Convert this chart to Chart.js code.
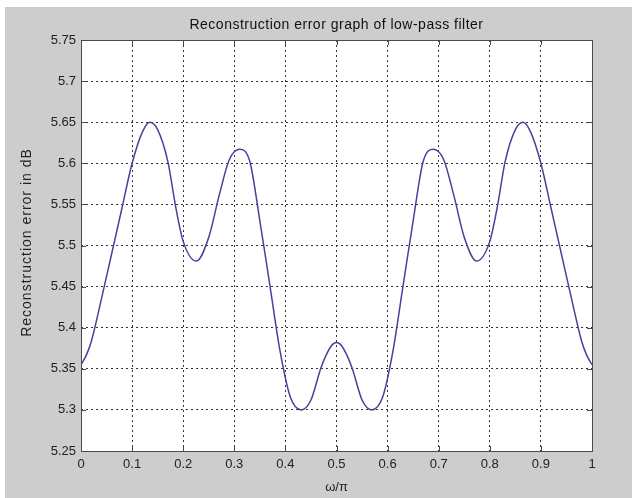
<!DOCTYPE html>
<html>
<head>
<meta charset="utf-8">
<script src="https://cdn.jsdelivr.net/npm/chart.js@4.4.1/dist/chart.umd.min.js"></script>
<style>
  html, body { margin: 0; padding: 0; background: #ffffff; }
  #wrap { width: 632px; height: 498px; }
</style>
</head>
<body>
<div id="wrap"><canvas id="c" width="632" height="498"></canvas></div>
<script>
// ---- data ----
const omegaOverPi = [0, 0.01, 0.02, 0.04, 0.06, 0.08, 0.10, 0.12, 0.135, 0.15, 0.17, 0.185, 0.20, 0.226, 0.25, 0.27, 0.29, 0.31, 0.33, 0.35, 0.37, 0.39, 0.41, 0.431, 0.45, 0.47, 0.49, 0.50,
                     0.51, 0.53, 0.55, 0.569, 0.59, 0.61, 0.63, 0.65, 0.67, 0.69, 0.71, 0.73, 0.75, 0.774, 0.80, 0.815, 0.83, 0.85, 0.865, 0.88, 0.90, 0.92, 0.94, 0.96, 0.98, 0.99, 1.0];
const errorDb = [5.355, 5.366, 5.383, 5.435, 5.49, 5.545, 5.600, 5.638, 5.650, 5.641, 5.602, 5.548, 5.505, 5.481, 5.51, 5.56, 5.604, 5.617, 5.603, 5.53, 5.45, 5.37, 5.315, 5.300, 5.312, 5.352, 5.378, 5.382,
                 5.378, 5.352, 5.312, 5.300, 5.315, 5.37, 5.45, 5.53, 5.603, 5.617, 5.604, 5.56, 5.51, 5.481, 5.505, 5.548, 5.602, 5.641, 5.650, 5.638, 5.600, 5.545, 5.49, 5.435, 5.383, 5.366, 5.355];
const xTickLabels = ['0', '0.1', '0.2', '0.3', '0.4', '0.5', '0.6', '0.7', '0.8', '0.9', '1'];
const yTickLabels = ['5.25', '5.3', '5.35', '5.4', '5.45', '5.5', '5.55', '5.6', '5.65', '5.7', '5.75'];
const chartTitle = 'Reconstruction error graph of low-pass filter';
const xTitle = 'ω/π';
const yTitle = 'Reconstruction error in dB';

const points = omegaOverPi.map((x, i) => ({ x: x, y: errorDb[i] }));
const FONT = 'Liberation Sans, Arial, sans-serif';

const frame = {
  id: 'matlabFrame',
  beforeDraw(chart) {
    const { ctx, chartArea: a } = chart;
    ctx.save();
    ctx.fillStyle = '#ffffff';
    ctx.fillRect(0, 0, chart.width, chart.height);
    ctx.fillStyle = '#cdcdcd';
    ctx.fillRect(5, 7, chart.width - 5, chart.height - 7);
    ctx.fillStyle = '#ffffff';
    ctx.fillRect(a.left, a.top, a.right - a.left, a.bottom - a.top);
    ctx.restore();
  },
  afterDraw(chart) {
    const { ctx, chartArea: a } = chart;
    const xs = chart.scales.x, ys = chart.scales.y;
    ctx.save();
    ctx.strokeStyle = '#4a4a4a';
    ctx.lineWidth = 1;
    ctx.strokeRect(Math.round(a.left) + 0.5, Math.round(a.top) + 0.5, Math.round(a.right - a.left), Math.round(a.bottom - a.top));
    const tl = 5;
    ctx.beginPath();
    xs.ticks.forEach(t => {
      const px = Math.round(xs.getPixelForValue(t.value)) + 0.5;
      ctx.moveTo(px, a.bottom); ctx.lineTo(px, a.bottom - tl);
      ctx.moveTo(px, a.top); ctx.lineTo(px, a.top + tl);
    });
    ys.ticks.forEach(t => {
      const py = Math.round(ys.getPixelForValue(t.value)) + 0.5;
      ctx.moveTo(a.left, py); ctx.lineTo(a.left + tl, py);
      ctx.moveTo(a.right, py); ctx.lineTo(a.right - tl, py);
    });
    ctx.stroke();
    // title centred over the plot box
    ctx.fillStyle = '#111111';
    ctx.font = '14px ' + FONT;
    ctx.textAlign = 'center';
    ctx.textBaseline = 'middle';
    try { ctx.letterSpacing = '0.5px'; } catch (e) {}
    ctx.fillText(chartTitle, (a.left + a.right) / 2, 25);
    // y-axis label, rotated
    try { ctx.letterSpacing = '1px'; } catch (e) {}
    ctx.fillStyle = '#222222';
    ctx.translate(27, (a.top + a.bottom) / 2 - 3);
    ctx.rotate(-Math.PI / 2);
    ctx.fillText(yTitle, 0, 0);
    ctx.restore();
  }
};

new Chart(document.getElementById('c'), {
  type: 'line',
  data: {
    datasets: [{
      data: points,
      borderColor: '#43439c',
      borderWidth: 1.5,
      pointRadius: 0,
      fill: false,
      cubicInterpolationMode: 'monotone'
    }]
  },
  options: {
    responsive: false,
    devicePixelRatio: 1,
    animation: false,
    layout: { padding: { left: 0, right: 40, top: 40, bottom: 0 } },
    plugins: {
      legend: { display: false },
      tooltip: { enabled: false },
      title: { display: false }
    },
    scales: {
      x: {
        type: 'linear',
        min: 0, max: 1,
        afterFit(s) { s.height = 47; },
        afterBuildTicks(s) { s.ticks = xTickLabels.map(l => ({ value: parseFloat(l) })); },
        ticks: {
          callback: (v, i) => xTickLabels[i],
          color: '#222222',
          font: { family: FONT, size: 13 },
          padding: 6,
          maxRotation: 0,
          autoSkip: false
        },
        grid: {
          drawTicks: false,
          color: (c) => (c.index === 0 || c.index === xTickLabels.length - 1) ? 'rgba(0,0,0,0)' : '#333333',
          lineWidth: 1
        },
        border: { display: false, dash: [2, 3] },
        title: {
          display: true,
          text: xTitle,
          color: '#222222',
          font: { family: FONT, size: 13 },
          padding: { top: 0, bottom: 3 }
        }
      },
      y: {
        min: 5.25, max: 5.75,
        afterFit(s) { s.width = 81; },
        afterBuildTicks(s) { s.ticks = yTickLabels.map(l => ({ value: parseFloat(l) })); },
        ticks: {
          callback: (v, i) => yTickLabels[i],
          color: '#222222',
          font: { family: FONT, size: 13 },
          padding: 5,
          autoSkip: false
        },
        grid: {
          drawTicks: false,
          color: (c) => (c.index === 0 || c.index === yTickLabels.length - 1) ? 'rgba(0,0,0,0)' : '#333333',
          lineWidth: 1
        },
        border: { display: false, dash: [2, 3] },
        title: { display: false }
      }
    }
  },
  plugins: [frame]
});
</script>
</body>
</html>
